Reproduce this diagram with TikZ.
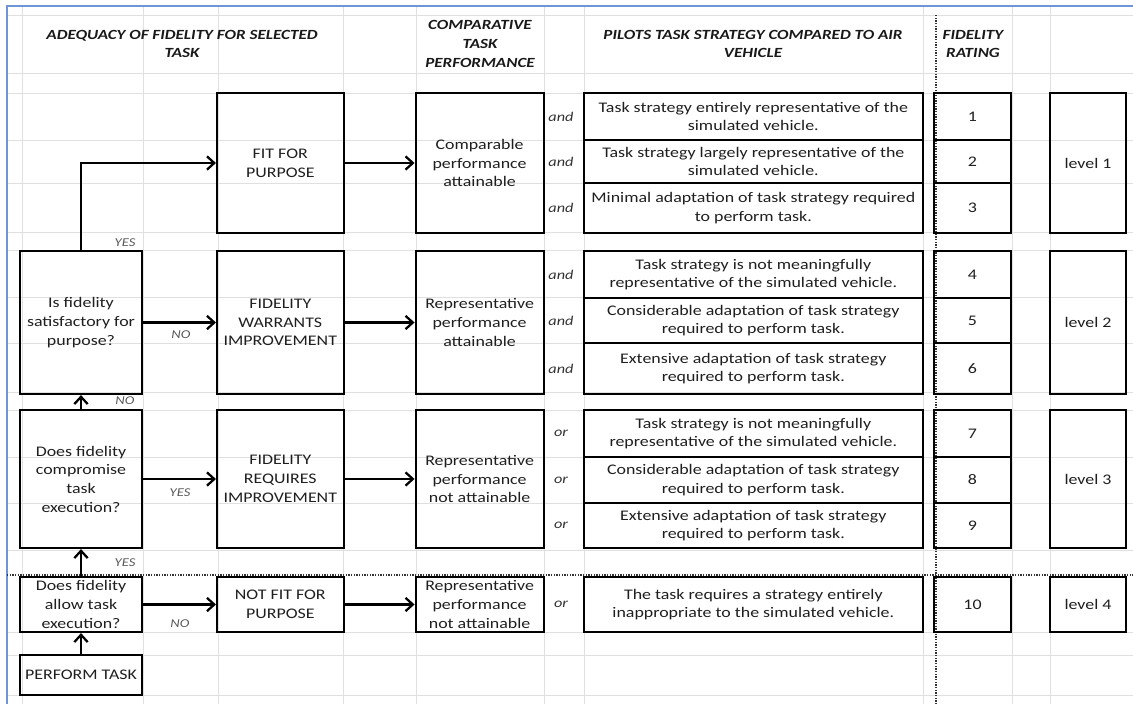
\documentclass[tikz,border=0pt]{standalone}
\usepackage{fontspec}
\setmainfont{Carlito}[FakeStretch=1.22]
\usetikzlibrary{arrows.meta, positioning}
\definecolor{sheetblue}{RGB}{110,150,215}

\begin{document}
\begin{tikzpicture}[x=0.75pt, y=-0.75pt,
    grid/.style={draw=black!12, line width=0.6pt},
    frame/.style={draw=sheetblue, line width=1.6pt},
    sep/.style={draw=black!80, line width=1.1pt, dash pattern=on 1.1pt off 0.9pt},
    head/.style={align=center, font=\fontsize{10.5}{14}\selectfont\bfseries\itshape, text=black!90},
    box/.style={rectangle, draw=black, line width=1.6pt, align=center, inner sep=0pt, font=\fontsize{11}{14}\selectfont, text=black!88},
    qbox/.style={box, minimum width=91.4pt},
    actbox/.style={box, minimum width=94.9pt},
    perfbox/.style={box, minimum width=96pt},
    strat/.style={box, minimum width=254.5pt},
    rate/.style={box, minimum width=57.75pt},
    lvl/.style={box, minimum width=57pt},
    conj/.style={font=\fontsize{10}{12}\selectfont\itshape, text=black!80},
    ans/.style={font=\fontsize{9}{10}\selectfont\itshape, text=black!65},
    arr/.style={-{Straight Barb[length=5.5pt, width=10pt]}, line width=1.7pt}
  ]
  \useasboundingbox (0,0) rectangle (1133,704);

  % spreadsheet grid
  \foreach \gx in {22,143,218,343,416,544,584,923,1012,1050}
    \draw[grid] (\gx,6) -- (\gx,704);
  \foreach \gy in {15,73,93,140,183,232,250,297,343,392,410,457,503,550,632,655,695}
    \draw[grid] (7,\gy) -- (1133,\gy);
  \draw[frame] (7,704) -- (7,6) -- (1133,6);
  \draw[sep] (936,15) -- (936,704);
  \draw[sep] (7,575) -- (1133,575);

  % column headings
  \node[head] (hadeq) at (182,44) {ADEQUACY OF FIDELITY FOR SELECTED\\TASK};
  \node[head] (hcomp) at (480,44) {COMPARATIVE\\TASK\\PERFORMANCE};
  \node[head] (hpilot) at (753,44) {PILOTS TASK STRATEGY COMPARED TO AIR\\VEHICLE};
  \node[head] (hrate) at (973,44) {FIDELITY\\RATING};

  % decision column
  \node[qbox, minimum height=107.25pt] (q1) at (81,322.5) {Is fidelity\\satisfactory for\\purpose?};
  \node[qbox, minimum height=103.5pt] (q2) at (81,479) {Does fidelity\\compromise\\task\\execution?};
  \node[qbox, minimum height=41.25pt] (q3) at (81,604.5) {Does fidelity\\allow task\\execution?};
  \node[qbox, minimum height=30pt] (perform) at (81,675) {PERFORM TASK};

  % outcome column
  \node[actbox, minimum height=105pt] (fit) at (280.3,163) {FIT FOR\\PURPOSE};
  \node[actbox, minimum height=107.25pt] (warrant) at (280.3,322.5) {FIDELITY\\WARRANTS\\IMPROVEMENT};
  \node[actbox, minimum height=103.5pt] (require) at (280.3,479) {FIDELITY\\REQUIRES\\IMPROVEMENT};
  \node[actbox, minimum height=41.25pt] (notfit) at (280.3,604.5) {NOT FIT FOR\\PURPOSE};

  % performance column
  \node[perfbox, minimum height=105pt] (perf1) at (479.6,163) {Comparable\\performance\\attainable};
  \node[perfbox, minimum height=107.25pt] (perf2) at (479.6,322.5) {Representative\\performance\\attainable};
  \node[perfbox, minimum height=103.5pt] (perf3) at (479.6,479) {Representative\\performance\\not attainable};
  \node[perfbox, minimum height=41.25pt] (perf4) at (479.6,604.5) {Representative\\performance\\not attainable};

  % strategy rows with ratings
  \foreach \n/\ya/\yb/\cj/\txt in {
      1/93/140/and/{Task strategy entirely representative of the\\simulated vehicle.},
      2/140/183/and/{Task strategy largely representative of the\\simulated vehicle.},
      3/183/233/and/{Minimal adaptation of task strategy required\\to perform task.},
      4/251/298/and/{Task strategy is not meaningfully\\representative of the simulated vehicle.},
      5/298/343/and/{Considerable adaptation of task strategy\\required to perform task.},
      6/343/394/and/{Extensive adaptation of task strategy\\required to perform task.},
      7/410/457/or/{Task strategy is not meaningfully\\representative of the simulated vehicle.},
      8/457/503/or/{Considerable adaptation of task strategy\\required to perform task.},
      9/503/548/or/{Extensive adaptation of task strategy\\required to perform task.},
      10/577/632/or/{The task requires a strategy entirely\\inappropriate to the simulated vehicle.}}
  {
    \node[strat, minimum height={(\yb-\ya)*0.75pt}] (s\n) at (753.3,{(\ya+\yb)/2}) {\txt};
    \node[rate, minimum height={(\yb-\ya)*0.75pt}] (r\n) at (972.5,{(\ya+\yb)/2}) {\n};
    \node[conj] (c\n) at (561,{(\ya+\yb)/2}) {\cj};
  }

  % levels
  \node[lvl, minimum height=105pt] (lev1) at (1088,163) {level 1};
  \node[lvl, minimum height=107.25pt] (lev2) at (1088,322.5) {level 2};
  \node[lvl, minimum height=103.5pt] (lev3) at (1088,479) {level 3};
  \node[lvl, minimum height=41.25pt] (lev4) at (1088,604.5) {level 4};

  % flow
  \draw[arr] (q1.north) |- (fit.west);
  \draw[arr] (fit) -- (perf1);
  \draw[arr] (q1) -- (warrant);
  \draw[arr] (warrant) -- (perf2);
  \draw[arr] (q2) -- (q1);
  \draw[arr] (q2) -- (require);
  \draw[arr] (require) -- (perf3);
  \draw[arr] (q3) -- (q2);
  \draw[arr] (q3) -- (notfit);
  \draw[arr] (notfit) -- (perf4);
  \draw[arr] (perform) -- (q3);

  % answers
  \node[ans] (yes1) at (125,243) {YES};
  \node[ans] (no1) at (181,335) {NO};
  \node[ans] (no2) at (125,401) {NO};
  \node[ans] (yes2) at (180,493) {YES};
  \node[ans] (yes3) at (125,563) {YES};
  \node[ans] (no3) at (180,624) {NO};
\end{tikzpicture}
\end{document}
